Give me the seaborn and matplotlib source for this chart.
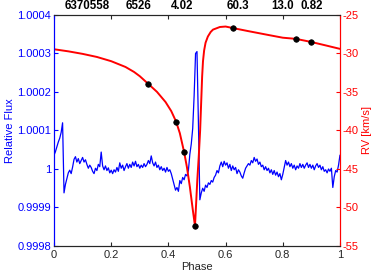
import numpy as np
import pandas as pd
import matplotlib
matplotlib.use('Agg')
import matplotlib.pyplot as plt
import seaborn as sns

# Light curve: phase grid and relative flux offsets (ppm)
phase_lc = np.linspace(0, 1, 201)
flux_ppm = [
    36, 45, 58, 70, 80, 95, 120, -62, -40, -25,
    -10, -3, -12, 5, 25, 32, 18, 27, 14, 22,
    30, 18, 24, 12, 2, 10, 4, -6, -12, 2,
    -4, 12, 6, 44, 8, -2, 8, -4, 3, -10,
    -3, -12, -2, -8, 4, -6, 16, 2, 10, -4,
    6, 14, 2, 12, 4, 18, 8, 20, 6, 12,
    2, 10, 4, 14, 6, 12, 22, 14, 34, 16,
    8, 18, 4, 10, -2, 6, -4, 2, -8, 4,
    -6, -2, -12, -26, -40, -55, -48, -58, -30, -38,
    -22, -28, -14, -18, -4, 38, 65, 105, 190, 300,
    305, 120, -80, -62, -50, -58, -42, -48, -36, -40,
    -30, -34, -22, -16, -4, -10, 8, 18, 6, 20,
    10, 16, 2, 12, -4, 8, -2, 4, -12, -2,
    -8, -18, -24, -10, 2, 8, 14, 10, 22, 16,
    30, 20, 26, 12, 18, 6, 10, -2, 6, -4,
    2, -10, -2, -14, -4, -16, -8, -20, -12, -28,
    -14, 4, 22, 10, 18, 6, 14, 2, 10, -2,
    8, 2, 14, 4, 12, 2, 10, 16, 4, 12,
    2, 10, -2, 8, 14, 4, 10, -2, 6, -6,
    -2, -10, 0, -6, 2, -48, -20, -4, -8, 10,
    36,
]

# RV model curve (km/s)
phase_rv = [0.0, 0.05, 0.10, 0.15, 0.20, 0.25, 0.28, 0.30, 0.33, 0.36,
            0.39, 0.41, 0.427, 0.44, 0.455, 0.465, 0.475, 0.485, 0.493, 0.497,
            0.501, 0.506, 0.511, 0.515, 0.518, 0.521, 0.525, 0.53, 0.538, 0.548,
            0.556, 0.58, 0.60, 0.626, 0.68, 0.75, 0.80, 0.846, 0.899, 0.95, 1.0]
rv_model = [-29.45, -29.72, -30.05, -30.45, -31.0, -31.75, -32.4, -32.95, -33.96, -34.98,
            -36.3, -37.48, -38.85, -40.35, -42.8, -44.8, -47.3, -50.2, -52.4, -49.5,
            -46.5, -43.5, -40.0, -36.0, -33.0, -31.0, -29.6, -28.6, -27.8, -27.2,
            -26.9, -26.56, -26.5, -26.7, -27.1, -27.6, -27.95, -28.1, -28.5, -28.95,
            -29.4]

# RV measurements
phase_obs = [0.329, 0.427, 0.455, 0.493, 0.626, 0.846, 0.899]
rv_obs = [-33.96, -38.9, -42.8, -52.4, -26.7, -28.1, -28.5]

# labels along the top
top_labels = ['6370558', '6526', '4.02', '60.3', '13.0', '0.82']
top_label_phase = [0.117, 0.297, 0.448, 0.643, 0.80, 0.90]

lc_df = pd.DataFrame({'phase': phase_lc, 'flux': 1 + np.array(flux_ppm) * 1e-6})
rv_df = pd.DataFrame({'phase': phase_rv, 'rv': rv_model})
obs_df = pd.DataFrame({'phase': phase_obs, 'rv': rv_obs})

sns.set_style('ticks')
plt.rcParams['font.family'] = ['Liberation Sans', 'DejaVu Sans']
plt.rcParams['axes.unicode_minus'] = False
plt.rcParams['font.size'] = 8

blue = '#0000ff'
red = '#ff0000'
dark = '#262626'

fig = plt.figure(figsize=(3.74, 2.74), dpi=100)
ax = fig.add_axes([0.1444, 0.1022, 0.7646, 0.8431])
ax2 = ax.twinx()

sns.lineplot(data=lc_df, x='phase', y='flux', ax=ax, color=blue, lw=0.9,
             estimator=None, sort=False)
sns.lineplot(data=rv_df, x='phase', y='rv', ax=ax2, color=red, lw=1.4,
             estimator=None, sort=False)
sns.scatterplot(data=obs_df, x='phase', y='rv', ax=ax2, color='black', s=16,
                edgecolor='black', linewidth=0.5, zorder=5)

ax.set_xlim(0, 1)
ax.set_ylim(0.9998, 1.0004)
ax2.set_ylim(-55, -25)
ax.set_xticks([0, 0.2, 0.4, 0.6, 0.8, 1])
ax.set_xticklabels(['0', '0.2', '0.4', '0.6', '0.8', '1'])
fticks = [0.9998, 0.9999, 1.0, 1.0001, 1.0002, 1.0003, 1.0004]
ax.set_yticks(fticks)
ax.set_yticklabels(['%g' % round(v, 4) for v in fticks])
ax2.set_yticks([-55, -50, -45, -40, -35, -30, -25])

ax.set_xlabel('Phase', color=dark, labelpad=1)
ax.set_ylabel('Relative Flux', color=blue, labelpad=2)
ax2.set_ylabel('RV [km/s]', color=red, labelpad=2)

ax.tick_params(axis='x', direction='in', length=3, colors=dark, top=True, labelsize=8, pad=3)
ax.tick_params(axis='y', direction='in', length=3, colors=blue, labelcolor=blue, labelsize=8, pad=2)
ax2.tick_params(axis='y', direction='in', length=3, colors=red, labelcolor=red, labelsize=8, pad=2)

for a in (ax, ax2):
    a.spines['top'].set_visible(True)
    a.spines['top'].set_color(dark)
    a.spines['bottom'].set_color(dark)
    a.spines['left'].set_color(blue)
    a.spines['right'].set_color(red)
    for s in a.spines.values():
        s.set_linewidth(0.8)

for lab, p in zip(top_labels, top_label_phase):
    ax.text(p, 1.015, lab, transform=ax.get_xaxis_transform(), ha='center',
            va='bottom', fontsize=8.3, fontweight='bold', color='black')

fig.savefig('out.png', dpi=100)
